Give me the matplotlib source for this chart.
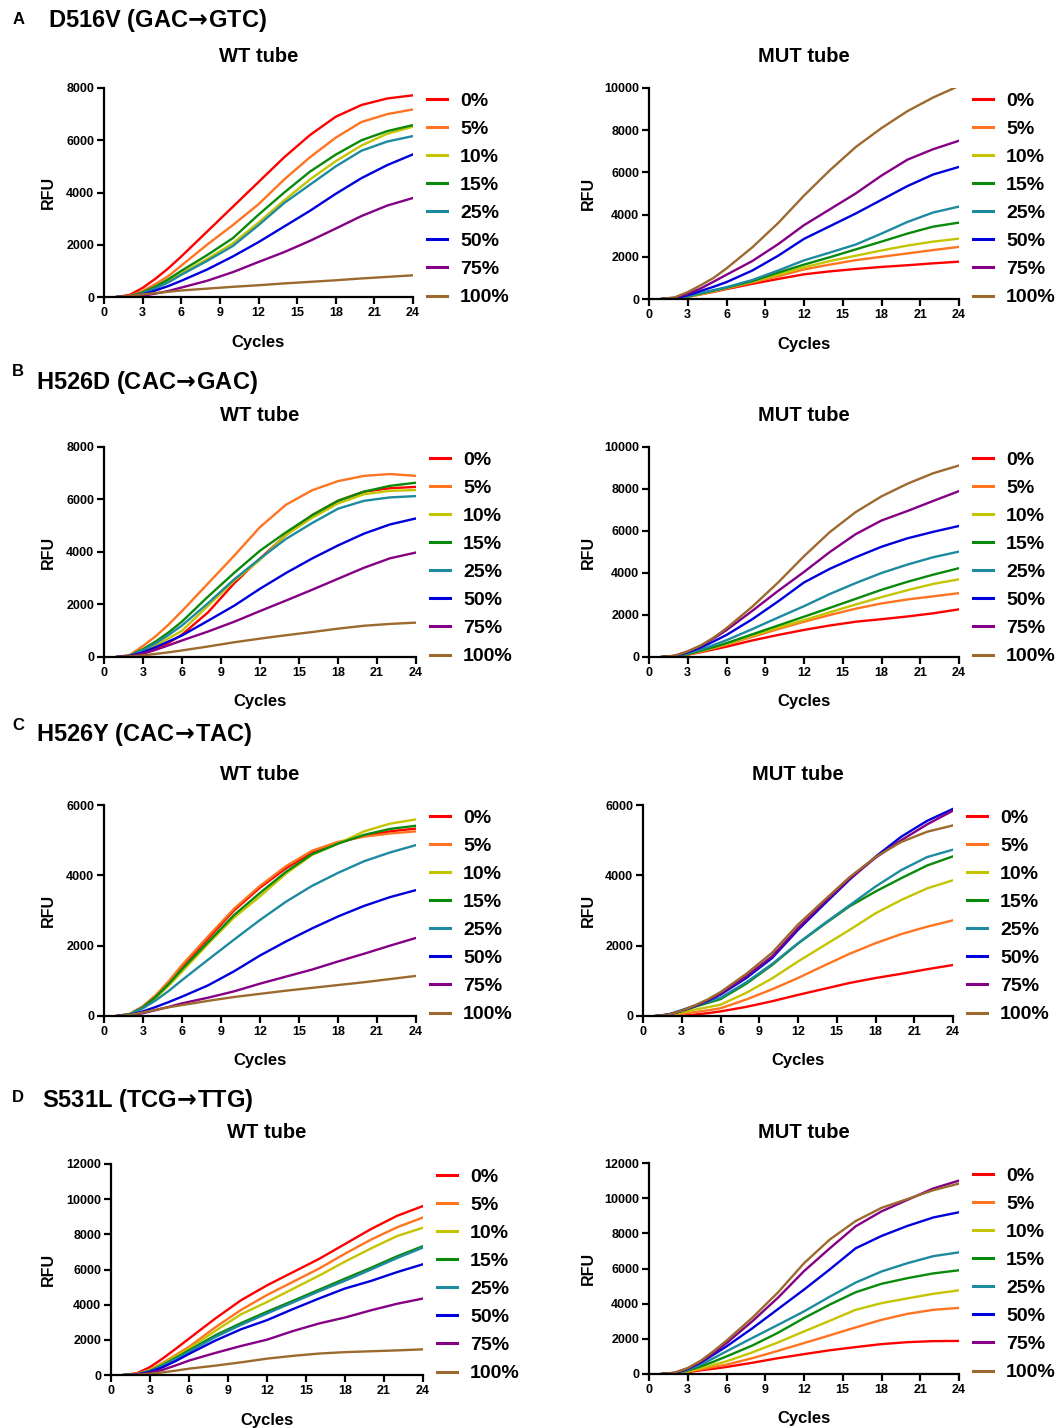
import matplotlib
matplotlib.use("Agg")
import matplotlib.pyplot as plt

plt.rcParams['font.family'] = ['Liberation Sans', 'DejaVu Sans']
plt.rcParams['font.weight'] = 'bold'

cycles = [1, 2, 3, 4, 5, 6, 8, 10, 12, 14, 16, 18, 20, 22, 24]
labels = ['0%', '5%', '10%', '15%', '25%', '50%', '75%', '100%']
colors = ['#FF0000', '#FF7420', '#C4C400', '#0A8A0A', '#1E8AA0', '#0000DD', '#850085', '#9C6A2E']

# A  D516V  (rows follow labels: 0%, 5%, 10%, 15%, 25%, 50%, 75%, 100%)
a_wt = [
    [0, 80, 350, 700, 1100, 1550, 2500, 3450, 4400, 5350, 6200, 6900, 7350, 7600, 7720],
    [0, 40, 230, 500, 800, 1200, 2000, 2750, 3550, 4500, 5350, 6100, 6700, 7000, 7180],
    [0, 25, 160, 350, 600, 900, 1450, 2050, 2850, 3700, 4500, 5200, 5800, 6250, 6520],
    [0, 30, 180, 400, 680, 1000, 1600, 2250, 3150, 4000, 4800, 5450, 6000, 6350, 6580],
    [0, 20, 140, 330, 560, 850, 1380, 1950, 2750, 3600, 4300, 5000, 5600, 5950, 6160],
    [0, 15, 100, 250, 420, 620, 1050, 1550, 2100, 2700, 3300, 3950, 4550, 5050, 5460],
    [0, 10, 50, 130, 230, 360, 620, 950, 1340, 1720, 2150, 2620, 3100, 3500, 3790],
    [0, 40, 100, 150, 200, 250, 320, 390, 450, 520, 580, 640, 710, 770, 830],
]
a_mut = [
    [0, 20, 100, 220, 340, 470, 720, 950, 1170, 1310, 1420, 1520, 1600, 1690, 1770],
    [0, 20, 110, 230, 360, 500, 780, 1080, 1400, 1630, 1840, 2000, 2160, 2320, 2470],
    [0, 20, 110, 240, 380, 520, 820, 1150, 1500, 1800, 2050, 2300, 2530, 2720, 2860],
    [0, 20, 120, 260, 400, 540, 850, 1250, 1630, 1980, 2350, 2720, 3100, 3430, 3620],
    [0, 20, 130, 280, 420, 560, 900, 1350, 1830, 2200, 2580, 3100, 3650, 4100, 4380],
    [0, 40, 180, 380, 580, 800, 1350, 2050, 2850, 3450, 4050, 4700, 5350, 5900, 6260],
    [0, 60, 250, 500, 820, 1150, 1800, 2600, 3500, 4250, 5000, 5850, 6600, 7100, 7500],
    [0, 80, 330, 650, 1000, 1450, 2450, 3600, 4900, 6100, 7200, 8100, 8900, 9550, 10100],
]

# B  H526D
b_wt = [
    [0, 20, 120, 300, 550, 850, 1700, 2800, 3750, 4650, 5400, 5950, 6300, 6430, 6480],
    [0, 80, 420, 800, 1250, 1750, 2800, 3850, 4950, 5800, 6350, 6700, 6900, 6970, 6900],
    [0, 40, 220, 450, 720, 1000, 1950, 2900, 3700, 4650, 5300, 5850, 6200, 6330, 6360],
    [0, 60, 300, 600, 950, 1350, 2300, 3200, 4050, 4750, 5400, 5950, 6300, 6520, 6640],
    [0, 50, 260, 530, 850, 1200, 2050, 2950, 3750, 4500, 5100, 5650, 5950, 6080, 6130],
    [0, 40, 180, 380, 600, 820, 1380, 1950, 2600, 3200, 3750, 4250, 4700, 5050, 5280],
    [0, 30, 130, 280, 450, 630, 970, 1340, 1750, 2150, 2560, 2980, 3400, 3760, 3980],
    [0, 20, 60, 120, 180, 250, 400, 560, 700, 830, 950, 1080, 1190, 1260, 1310],
]
b_mut = [
    [0, 30, 110, 230, 360, 490, 790, 1050, 1290, 1500, 1680, 1800, 1930, 2080, 2270],
    [0, 30, 120, 260, 420, 590, 960, 1330, 1680, 2000, 2300, 2550, 2740, 2890, 3040],
    [0, 30, 130, 280, 440, 620, 1020, 1400, 1760, 2130, 2500, 2850, 3180, 3480, 3700],
    [0, 30, 140, 300, 470, 660, 1080, 1500, 1920, 2340, 2770, 3200, 3580, 3920, 4230],
    [0, 40, 170, 350, 570, 800, 1330, 1880, 2420, 3000, 3520, 4000, 4400, 4750, 5020],
    [0, 50, 220, 450, 740, 1050, 1800, 2650, 3550, 4200, 4750, 5250, 5650, 5960, 6240],
    [0, 60, 260, 530, 880, 1280, 2200, 3150, 4050, 5000, 5850, 6500, 6950, 7430, 7900],
    [0, 60, 270, 550, 920, 1370, 2400, 3550, 4800, 5950, 6900, 7650, 8250, 8750, 9120],
]

# C  H526Y
c_wt = [
    [0, 60, 270, 580, 950, 1400, 2200, 3000, 3650, 4200, 4650, 4930, 5120, 5250, 5330],
    [0, 60, 280, 600, 1000, 1450, 2260, 3050, 3700, 4260, 4700, 4950, 5100, 5190, 5250],
    [0, 50, 240, 520, 870, 1260, 2050, 2800, 3400, 4050, 4580, 4900, 5250, 5470, 5590],
    [0, 50, 250, 550, 920, 1330, 2100, 2870, 3500, 4100, 4600, 4900, 5150, 5320, 5410],
    [0, 50, 220, 450, 720, 1020, 1600, 2170, 2730, 3250, 3700, 4070, 4400, 4650, 4860],
    [0, 30, 130, 260, 400, 550, 870, 1270, 1720, 2120, 2490, 2830, 3130, 3380, 3580],
    [0, 20, 80, 170, 260, 360, 520, 700, 920, 1120, 1320, 1550, 1770, 2000, 2220],
    [0, 30, 100, 180, 250, 310, 430, 540, 630, 720, 800, 880, 960, 1050, 1140],
]
c_mut = [
    [0, 0, 10, 40, 80, 130, 260, 420, 600, 770, 940, 1080, 1200, 1330, 1450],
    [0, 20, 60, 110, 160, 220, 470, 760, 1080, 1430, 1770, 2070, 2330, 2540, 2720],
    [0, 30, 100, 180, 250, 320, 660, 1070, 1550, 2000, 2450, 2920, 3300, 3630, 3860],
    [0, 40, 140, 260, 370, 480, 920, 1450, 2060, 2600, 3120, 3540, 3920, 4280, 4540],
    [0, 50, 170, 290, 400, 520, 960, 1480, 2070, 2620, 3150, 3680, 4150, 4520, 4730],
    [0, 40, 150, 280, 430, 610, 1080, 1650, 2450, 3170, 3880, 4530, 5100, 5550, 5890],
    [0, 40, 150, 290, 450, 640, 1130, 1700, 2500, 3220, 3900, 4500, 5000, 5450, 5840],
    [0, 40, 150, 300, 470, 680, 1200, 1800, 2600, 3280, 3950, 4520, 4950, 5240, 5420],
]

# D  S531L
d_wt = [
    [0, 100, 450, 950, 1500, 2070, 3200, 4250, 5100, 5850, 6600, 7450, 8300, 9050, 9610],
    [0, 60, 300, 700, 1150, 1600, 2700, 3700, 4550, 5300, 6050, 6900, 7700, 8400, 8960],
    [0, 50, 280, 650, 1080, 1500, 2500, 3450, 4150, 4900, 5650, 6450, 7200, 7900, 8380],
    [0, 40, 240, 580, 980, 1400, 2250, 2950, 3600, 4220, 4850, 5480, 6100, 6750, 7330],
    [0, 40, 220, 540, 920, 1320, 2150, 2850, 3500, 4130, 4760, 5360, 6000, 6650, 7250],
    [0, 30, 180, 450, 800, 1200, 1950, 2600, 3120, 3750, 4350, 4920, 5350, 5850, 6300],
    [0, 20, 120, 300, 550, 820, 1250, 1650, 2010, 2500, 2930, 3270, 3680, 4050, 4350],
    [0, 20, 70, 150, 250, 360, 530, 720, 930, 1090, 1220, 1300, 1350, 1400, 1460],
]
d_mut = [
    [0, 20, 100, 210, 300, 400, 640, 900, 1130, 1350, 1530, 1700, 1810, 1870, 1880],
    [0, 20, 120, 260, 400, 530, 900, 1320, 1760, 2200, 2650, 3080, 3420, 3650, 3760],
    [0, 30, 150, 330, 520, 720, 1230, 1800, 2420, 3030, 3650, 4030, 4300, 4560, 4760],
    [0, 40, 200, 430, 700, 1000, 1620, 2350, 3180, 3950, 4650, 5130, 5450, 5720, 5900],
    [0, 50, 240, 530, 900, 1290, 2050, 2800, 3560, 4400, 5200, 5830, 6300, 6700, 6920],
    [0, 60, 290, 650, 1100, 1570, 2600, 3700, 4800, 5950, 7150, 7850, 8420, 8900, 9200],
    [0, 70, 320, 700, 1200, 1760, 3000, 4350, 5850, 7150, 8400, 9250, 9900, 10550, 11000],
    [0, 80, 340, 750, 1300, 1900, 3200, 4650, 6300, 7650, 8700, 9450, 9950, 10450, 10830],
]

W, H = 1064, 1428
fig = plt.figure(figsize=(W / 100, H / 100), dpi=100)


def panel(box, data, ymax, ystep, title):
    l, t, r, b = box
    w, h = r - l, b - t
    ax = fig.add_axes([l / W, 1 - b / H, w / W, h / H])
    for vals, lab, col in zip(data, labels, colors):
        ax.plot(cycles, vals, color=col, lw=1.7, label=lab)
    ax.set_xlim(0, 24)
    ax.set_ylim(0, ymax)
    ax.set_xticks(range(0, 25, 3))
    ax.set_yticks(range(0, ymax + 1, ystep))
    ax.spines[['top', 'right']].set_visible(False)
    ax.spines[['left', 'bottom']].set_linewidth(1.6)
    ax.tick_params(width=1.6, length=5, labelsize=9, pad=2)
    ax.text(0.5, 1 + 31 / h, title, transform=ax.transAxes, ha='center', va='center',
            fontsize=14.5, fontweight='bold')
    ax.set_xlabel('Cycles', fontsize=12, fontweight='bold')
    ax.xaxis.label.set_va('center')
    ax.xaxis.set_label_coords(0.5, -45 / h)
    ax.set_ylabel('RFU', fontsize=11.5, fontweight='bold')
    ax.yaxis.label.set_va('center')
    ax.yaxis.set_label_coords(-(l - (48 if l < 500 else 588)) / w, 0.5)
    leg = ax.legend(loc='upper left', bbox_to_anchor=((r + 14 - l) / w, 1 - 4 / h), frameon=False,
                    prop={'weight': 'bold', 'size': 14}, handlelength=1.05,
                    handletextpad=0.65, labelspacing=0.54, borderpad=0, borderaxespad=0)
    for ln in leg.get_lines():
        ln.set_linewidth(2.2)
    return ax


panel((104, 88, 413, 297), a_wt, 8000, 2000, 'WT tube')
panel((649, 88, 959, 299), a_mut, 10000, 2000, 'MUT tube')
panel((104, 447, 416, 657), b_wt, 8000, 2000, 'WT tube')
panel((649, 447, 959, 657), b_mut, 10000, 2000, 'MUT tube')
panel((104, 805, 416, 1016), c_wt, 6000, 2000, 'WT tube')
panel((643, 805, 953, 1016), c_mut, 6000, 2000, 'MUT tube')
panel((111, 1164, 423, 1375), d_wt, 12000, 2000, 'WT tube')
panel((649, 1163, 959, 1374), d_mut, 12000, 2000, 'MUT tube')

arrow = r'$\!\rightarrow\!$'
headers = [('A', 13, 20, 'D516V (GAC' + arrow + 'GTC)', 48, 21),
           ('B', 12, 372, 'H526D (CAC' + arrow + 'GAC)', 36, 383),
           ('C', 12, 725, 'H526Y (CAC' + arrow + 'TAC)', 36, 735),
           ('D', 12, 1098, 'S531L (TCG' + arrow + 'TTG)', 42, 1101)]
for letter, lx, ly, name, tx, ty in headers:
    fig.text(lx / W, 1 - ly / H, letter, fontsize=12, fontweight='bold', va='center')
    fig.text(tx / W, 1 - ty / H, name, fontsize=17, fontweight='bold', va='center')

fig.savefig('out.png', dpi=100)
